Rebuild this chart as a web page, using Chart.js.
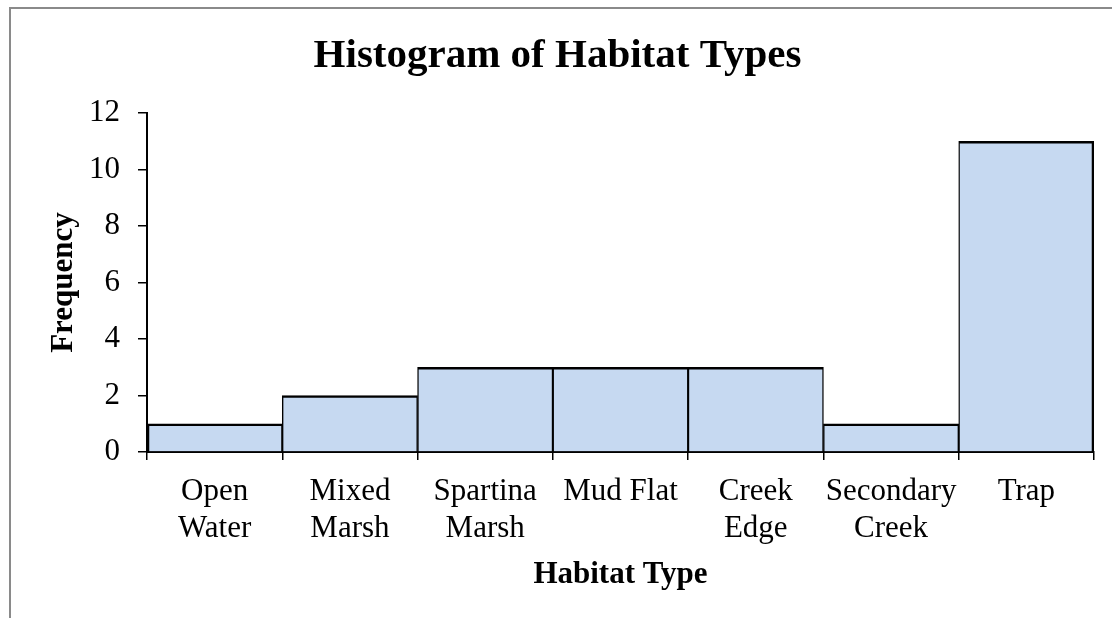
<!DOCTYPE html>
<html>
<head>
<meta charset="utf-8">
<title>Histogram of Habitat Types</title>
<script src="https://cdn.jsdelivr.net/npm/chart.js@4"></script>
<style>
  html, body { margin: 0; padding: 0; background: #fff; overflow: hidden; }
  #frame {
    position: absolute; left: 9px; top: 7px;
    width: 1103px; height: 611px; box-sizing: border-box;
    border-top: 2px solid #8a8a8a; border-left: 2px solid #8a8a8a;
  }
  #stage { display: block; }
</style>
</head>
<body>
<div id="frame"><canvas id="stage" width="1101" height="609"></canvas></div>
<script>
// habitat categories and how many samples fell in each
const habitats = [
  ['Open', 'Water'],
  ['Mixed', 'Marsh'],
  ['Spartina', 'Marsh'],
  'Mud Flat',
  ['Creek', 'Edge'],
  ['Secondary', 'Creek'],
  'Trap'
];
const frequency = [1, 2, 3, 3, 3, 1, 11];
const yTicks = { min: 0, max: 12, step: 2 };

const serif = 'Liberation Serif, Times New Roman, serif';
const last = frequency.length - 1;

new Chart(document.getElementById('stage'), {
  type: 'bar',
  data: {
    labels: habitats,
    datasets: [{
      label: 'Frequency',
      data: frequency,
      backgroundColor: '#C6D9F1',
      borderColor: '#000',
      borderSkipped: 'bottom',
      // neighbouring bars share an edge, so split the side borders
      borderWidth: ctx => ({
        top: 2.6,
        left: ctx.dataIndex === 0 ? 2.6 : 1.4,
        right: ctx.dataIndex === last ? 2.6 : 1.4,
        bottom: 0
      }),
      barPercentage: 1,
      categoryPercentage: 1
    }]
  },
  options: {
    responsive: false,
    devicePixelRatio: 1,
    animation: false,
    layout: { padding: { left: 10, right: 18, top: 0, bottom: 0 } },
    plugins: {
      legend: { display: false },
      tooltip: { enabled: false },
      title: {
        display: true,
        text: 'Histogram of Habitat Types',
        color: '#000',
        font: { family: serif, size: 41, weight: 'bold' },
        padding: { top: 22.6, bottom: 32.2 }
      }
    },
    scales: {
      x: {
        afterFit: s => { s.height = 166; },
        border: { display: true, color: '#000', width: 2 },
        grid: {
          offset: true,
          drawOnChartArea: false,
          drawTicks: true,
          tickLength: 8,
          color: '#000',
          lineWidth: 1.5
        },
        ticks: {
          color: '#000',
          padding: 13,
          maxRotation: 0,
          autoSkip: false,
          font: { family: serif, size: 31, lineHeight: 1.2 }
        },
        title: {
          display: true,
          text: 'Habitat Type',
          color: '#000',
          font: { family: serif, size: 31, weight: 'bold', lineHeight: 1.2 },
          padding: { top: 0, bottom: 24 }
        }
      },
      y: {
        min: yTicks.min,
        max: yTicks.max,
        afterFit: s => { s.width = 126; },
        border: { display: true, color: '#000', width: 2 },
        grid: {
          drawOnChartArea: false,
          drawTicks: true,
          tickLength: 9,
          color: '#000',
          lineWidth: 1.5
        },
        ticks: {
          stepSize: yTicks.step,
          color: '#000',
          padding: 18,
          font: { family: serif, size: 31 }
        },
        title: {
          display: true,
          text: 'Frequency',
          color: '#000',
          font: { family: serif, size: 31, weight: 'bold', lineHeight: 1.2 },
          padding: { top: 24, bottom: 0 }
        }
      }
    }
  }
});
</script>
</body>
</html>
